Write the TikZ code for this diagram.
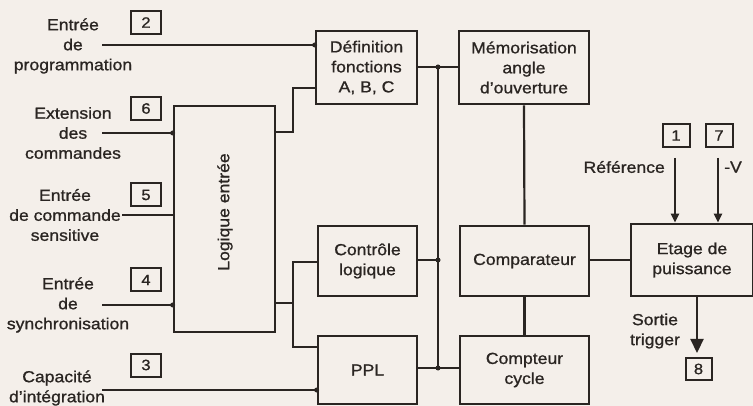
\documentclass[tikz,border=0pt]{standalone}
\usepackage{fontspec}
\setmainfont[FakeStretch=1.1,FakeBold=1]{Liberation Sans}
\usetikzlibrary{arrows.meta}
\definecolor{ink}{HTML}{2A2522}
\definecolor{paper}{HTML}{F4EFEA}
\begin{document}
\begin{tikzpicture}[x=1pt,y=-1pt,
  every node/.style={font=\fontsize{16}{20}\selectfont, text=ink},
  blk/.style={draw=ink, line width=2.6pt, align=center, inner sep=0pt},
  pin/.style={draw=ink, line width=2pt, minimum width=30pt, minimum height=23pt, inner sep=0pt, font=\fontsize{15}{18}\selectfont},
  lbl/.style={align=center, inner sep=0pt},
  wire/.style={draw=ink, line width=2.2pt},
  dot/.style={fill=ink, circle, inner sep=0pt, minimum size=5pt},
  smallarr/.style={wire, -{Triangle[length=9pt,width=8pt]}},
  bigarr/.style={wire, -{Triangle[length=14pt,width=13pt]}}]
\fill[paper] (0,0) rectangle (753,406);
\useasboundingbox (0,0) rectangle (753,406);

% blocks
\node[blk, minimum width=101pt, minimum height=73pt] (def) at (366.5,67.5) {Définition\\fonctions\\A, B, C};
\node[blk, minimum width=130pt, minimum height=73pt] (mem) at (524,67.5) {Mémorisation\\angle\\d'ouverture};
\node[blk, minimum width=101pt, minimum height=226pt] (log) at (224.5,219) {};
\node[lbl, rotate=90] (logt) at (225,212) {Logique entrée};
\node[blk, minimum width=99pt, minimum height=70pt] (ctl) at (367.5,261) {Contrôle\\logique};
\node[blk, minimum width=99pt, minimum height=68pt] (ppl) at (367.5,370) {PPL};
\node[blk, minimum width=129pt, minimum height=70pt] (cmp) at (524.5,261) {Comparateur};
\node[blk, minimum width=129pt, minimum height=68pt] (cpt) at (524.5,370) {Compteur\\cycle};
\node[blk, minimum width=122pt, minimum height=72pt] (eta) at (692,260) {Etage de\\puissance};

% pins
\node[pin] (p2) at (146,22.5) {2};
\node[pin] (p6) at (146,108.5) {6};
\node[pin] (p5) at (146,195) {5};
\node[pin] (p4) at (146,280) {4};
\node[pin] (p3) at (146,365) {3};
\node[pin, minimum width=27pt] (p1) at (676,135.5) {1};
\node[pin, minimum width=27pt] (p7) at (719,135.5) {7};
\node[pin, minimum width=26pt, minimum height=22pt] (p8) at (698.5,369) {8};

% labels
\node[lbl] (l2) at (73,46) {Entrée\\de\\programmation};
\node[lbl] (l6) at (73,133) {Extension\\des\\commandes};
\node[lbl] (l5) at (65,215) {Entrée\\de commande\\sensitive};
\node[lbl] (l4) at (68,305) {Entrée\\de\\synchronisation};
\node[lbl] (l3) at (57,388) {Capacité\\d'intégration};
\node[lbl, anchor=east] (lref) at (665,167) {Référence};
\node[lbl, anchor=west] (lv) at (724,167) {-V};
\node[lbl] (ltrig) at (655,331) {Sortie\\trigger};

% coordinates
\coordinate (i2) at (102,45);
\coordinate (i6) at (102,133);
\coordinate (i5) at (122,215);
\coordinate (i4) at (102,305);
\coordinate (i3) at (102,390);
\coordinate (ja) at (293,132);
\coordinate (jb) at (293,88);
\coordinate (jl) at (293,303);
\coordinate (jc) at (293,262);
\coordinate (jp) at (293,347);
\coordinate (bt) at (438,67);
\coordinate (bc) at (438,260);
\coordinate (bb) at (438,368);
\coordinate (r1) at (675,158);
\coordinate (r7) at (718,158);
\coordinate (tr) at (697,353);

% wires
\draw[wire] (i2) -- (i2 -| def.west) node[dot]{};
\draw[wire] (log.east |- ja) -- (ja) -- (jb) -- (jb -| def.west);
\draw[wire] (i6) -- (i6 -| log.west) node[dot]{};
\draw[wire] (i5) -- (i5 -| log.west);
\draw[wire] (i4) -- (i4 -| log.west) node[dot]{};
\draw[wire] (log.east |- jl) -- (jl);
\draw[wire] (jc -| ctl.west) -- (jc) -- (jp) -- (jp -| ppl.west);
\draw[wire] (i3) -- (i3 -| ppl.west) node[dot]{};
\draw[wire] (bt -| def.east) -- (bt -| mem.west);
\draw[wire] (bt) -- (bb);
\node[dot] at (bt) {};
\draw[wire] (bc -| ctl.east) -- (bc) node[dot]{};
\draw[wire] (bb -| ppl.east) -- (bb -| cpt.west);
\node[dot] at (bb) {};
\draw[wire] (mem.south) -- (cmp.north);
\draw[wire] (cmp.south) -- (cpt.north);
\draw[wire] (bc -| cmp.east) -- (bc -| eta.west);
\draw[smallarr] (r1) -- (r1 |- eta.north);
\draw[smallarr] (r7) -- (r7 |- eta.north);
\draw[bigarr] (tr |- eta.south) -- (tr);
\end{tikzpicture}
\end{document}
